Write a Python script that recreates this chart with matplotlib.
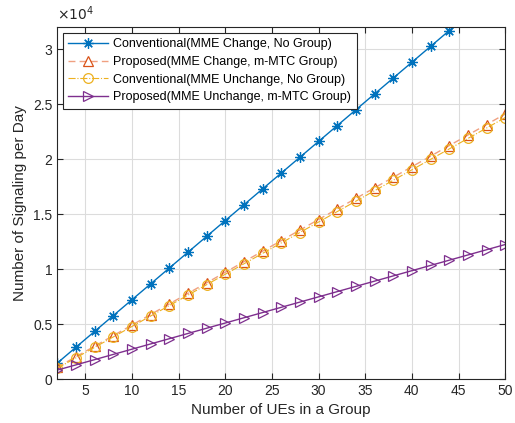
import matplotlib.pyplot as plt
from matplotlib.ticker import FuncFormatter

plt.rcParams['font.family'] = ['Liberation Sans', 'DejaVu Sans']

# number of UEs in a group
ues = list(range(2, 51, 2))

conv_change = [1440, 2880, 4320, 5760, 7200, 8640, 10080, 11520, 12960, 14400, 15840, 17280, 18720,
               20160, 21600, 23040, 24480, 25920, 27360, 28800, 30240, 31680, 33120, 34560, 36000]
prop_change = [1060, 2020, 2980, 3940, 4900, 5860, 6820, 7780, 8740, 9700, 10660, 11620, 12580,
               13540, 14500, 15460, 16420, 17380, 18340, 19300, 20260, 21220, 22180, 23140, 24100]
conv_unchange = [970, 1920, 2870, 3820, 4770, 5720, 6670, 7620, 8570, 9520, 10470, 11420, 12370,
                 13320, 14270, 15220, 16170, 17120, 18070, 19020, 19970, 20920, 21870, 22820, 23770]
prop_unchange = [806, 1282, 1758, 2234, 2710, 3186, 3662, 4138, 4614, 5090, 5566, 6042, 6518,
                 6994, 7470, 7946, 8422, 8898, 9374, 9850, 10326, 10802, 11278, 11754, 12230]

labels = ['Conventional(MME Change, No Group)',
          'Proposed(MME Change, m-MTC Group)',
          'Conventional(MME Unchange, No Group)',
          'Proposed(MME Unchange, m-MTC Group)']

fig = plt.figure(figsize=(5.15, 4.23), dpi=100)
ax = fig.add_axes([0.111, 0.104, 0.870, 0.832])

ax.plot(ues, conv_change, color='#0072BD', lw=1.0, marker=(8, 2, 0), ms=7.5,
        mew=0.9, label=labels[0])
ax.plot(ues, prop_change, color='#F0A080', ls='--', dashes=(5, 3), lw=1.0, marker='^', ms=7,
        mec='#D95319', mfc='none', mew=0.9, label=labels[1])
ax.plot(ues, conv_unchange, color='#EDB120', ls='-.', lw=0.8, marker='o', ms=7,
        mec='#EDB120', mfc='none', mew=0.9, label=labels[2])
ax.plot(ues, prop_unchange, color='#7E2F8E', lw=1.0, marker='>', ms=7,
        mfc='none', mew=0.9, label=labels[3])

ax.set_xlim(2, 50)
ax.set_ylim(0, 32000)
ax.set_xticks(range(5, 51, 5))
ax.set_yticks([0, 5000, 10000, 15000, 20000, 25000, 30000])
ax.yaxis.set_major_formatter(FuncFormatter(lambda v, p: f'{v / 1e4:g}'))
ax.text(0.0, 1.012, r'$\times10^{4}$', transform=ax.transAxes, fontsize=10, color='#262626',
        va='bottom', ha='left')

ax.tick_params(direction='in', top=True, right=True, labelsize=10, colors='#262626', length=4)
ax.grid(True, color='#DCDCDC', lw=0.8)
for s in ax.spines.values():
    s.set_color('#262626')
    s.set_linewidth(0.8)

ax.set_xlabel('Number of UEs in a Group', fontsize=11, color='#262626')
ax.set_ylabel('Number of Signaling per Day', fontsize=11, color='#262626')

leg = ax.legend(loc='upper left', fontsize=9, fancybox=False, framealpha=1,
                edgecolor='#262626', borderaxespad=0.45, handlelength=3.2,
                handletextpad=0.4, labelspacing=0.45, borderpad=0.45)
leg.get_frame().set_linewidth(0.8)

fig.savefig('out.png', dpi=100)
